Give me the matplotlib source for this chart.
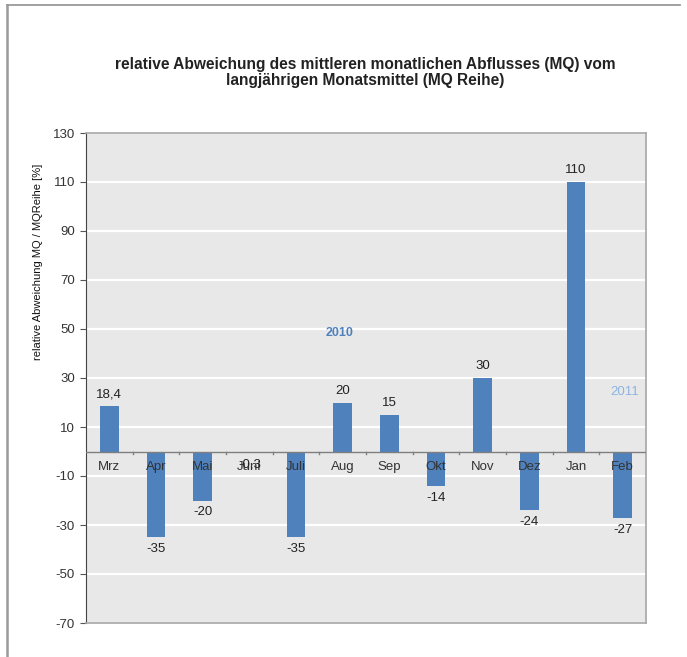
import numpy as np
import matplotlib
matplotlib.use("Agg")
import matplotlib.pyplot as plt
from matplotlib.lines import Line2D

plt.rcParams['font.family'] = ['Liberation Sans', 'DejaVu Sans']

months = ['Mrz', 'Apr', 'Mai', 'Juni', 'Juli', 'Aug', 'Sep', 'Okt', 'Nov', 'Dez', 'Jan', 'Feb']
values = [18.4, -35, -20, -0.3, -35, 20, 15, -14, 30, -24, 110, -27]
value_labels = ['18,4', '-35', '-20', '-0,3', '-35', '20', '15', '-14', '30', '-24', '110', '-27']
y_ticks = [-70, -50, -30, -10, 10, 30, 50, 70, 90, 110, 130]

W, H = 687, 657
fig = plt.figure(figsize=(W / 100, H / 100), dpi=100)
fig.patch.set_facecolor('white')

# frame lines around the figure (top + left only)
fig.add_artist(Line2D([7 / W, 680 / W], [1 - 5 / H, 1 - 5 / H], color='#9a9a9a', lw=1.3))
fig.add_artist(Line2D([7 / W, 7 / W], [0, 1 - 5 / H], color='#9a9a9a', lw=1.8))

ax = fig.add_axes([86 / W, 34 / H, 560 / W, 490 / H])
ax.set_facecolor('#e8e8e8')

x = np.arange(len(months))
ax.bar(x, values, width=0.4, color='#4f81bd', zorder=3)

ax.set_xlim(-0.5, len(months) - 0.5)
ax.set_ylim(-70, 130)
ax.set_yticks(y_ticks)
ax.set_yticklabels([str(t) for t in y_ticks], fontsize=9.5, color='#333333')
ax.tick_params(axis='y', length=4, width=0.8, color='#555555', pad=4)
ax.set_xticks([])
ax.yaxis.grid(True, color='white', lw=1.6, zorder=1)
ax.set_axisbelow(True)

for side in ['top', 'right', 'bottom']:
    ax.spines[side].set_color('#a6a6a6')
    ax.spines[side].set_linewidth(1.2)
ax.spines['left'].set_color('#444444')
ax.spines['left'].set_linewidth(0.8)

# zero line with small category ticks
ax.axhline(0, color='#7f7f7f', lw=1.0, zorder=4)
for b in np.arange(0.5, len(months) - 0.5, 1.0):
    ax.plot([b, b], [0, -1.2], color='#7f7f7f', lw=1.0, zorder=4, clip_on=False)

# category labels below zero line
for i, m in enumerate(months):
    ax.annotate(m, xy=(i, 0), xytext=(0, -11.5), textcoords='offset points',
                ha='center', va='center', fontsize=9.5, color='#333333', zorder=5)

# value labels
for i, (v, lab) in enumerate(zip(values, value_labels)):
    off = 8.3 if v > 0 else -8.6
    ax.annotate(lab, xy=(i, v), xytext=(0, off), textcoords='offset points',
                ha='center', va='center', fontsize=9.5, color='#222222', zorder=5)

ax.text(4.94, 48.4, '2010', color='#4f81bd', fontsize=9,
        fontweight='bold', ha='center', va='center', zorder=5)
ax.text(11.05, 24.3, '2011', color='#8db4e2', fontsize=9.5,
        ha='center', va='center', zorder=5)

fig.text(365 / W, 1 - 64 / H, 'relative Abweichung des mittleren monatlichen Abflusses (MQ) vom',
         ha='center', va='center', fontsize=11.2, fontweight='bold', color='#222222')
fig.text(365 / W, 1 - 81 / H, 'langjährigen Monatsmittel (MQ Reihe)',
         ha='center', va='center', fontsize=11.2, fontweight='bold', color='#222222')

fig.text(38 / W, 1 - 262 / H, 'relative Abweichung MQ / MQReihe [%]', rotation=90,
         ha='center', va='center', fontsize=8, color='#111111')

fig.savefig('out.png', dpi=100)
